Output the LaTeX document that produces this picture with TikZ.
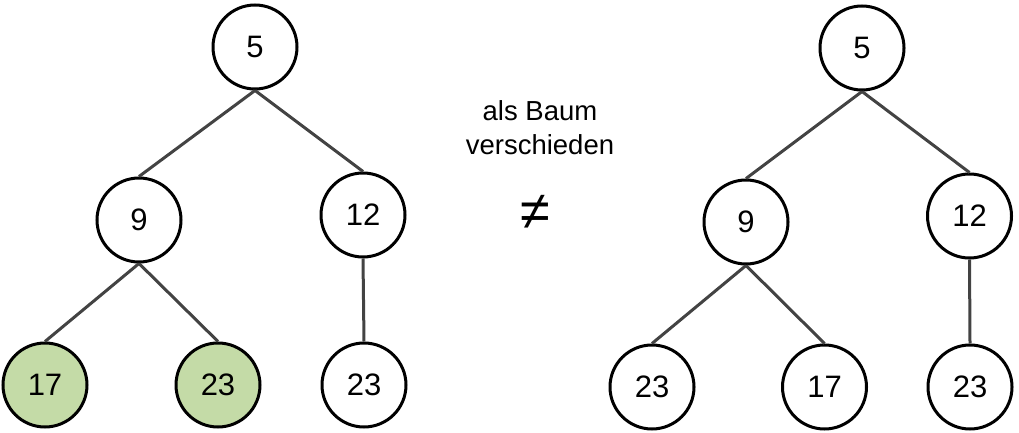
\documentclass[tikz,border=0pt]{standalone}
\usepackage{fontspec}
\setmainfont{Liberation Sans}
\definecolor{edgegray}{HTML}{434343}
\definecolor{leafgreen}{HTML}{C4DBA7}
\begin{document}
\begin{tikzpicture}[x=1pt,y=1pt,
  vertex/.style={circle,draw=black,line width=3pt,minimum size=84pt,inner sep=0pt,fill=white,font=\fontsize{31}{36}\selectfont},
  marked/.style={vertex,fill=leafgreen},
  treeedge/.style={draw=edgegray,line width=3pt},
  midtext/.style={font=\fontsize{27.5}{34}\selectfont,inner sep=0pt}]
\useasboundingbox (0,0) rectangle (1019,433);
% left tree
\node[vertex] (la) at (255,386) {5};
\node[vertex] (lb) at (139,213) {9};
\node[vertex] (lc) at (363,218) {12};
\node[marked] (ld) at (45,48) {17};
\node[marked] (le) at (218,48) {23};
\node[vertex] (lf) at (364,48) {23};
\draw[treeedge] (la.south) -- (lb.north);
\draw[treeedge] (la.south) -- (lc.north);
\draw[treeedge] (lb.south) -- (ld.north);
\draw[treeedge] (lb.south) -- (le.north);
\draw[treeedge] (lc.south) -- (lf.north);
% right tree
\node[vertex] (ra) at (862,385) {5};
\node[vertex] (rb) at (746,211) {9};
\node[vertex] (rc) at (969.5,217) {12};
\node[vertex] (rd) at (652,46) {23};
\node[vertex] (re) at (824.5,46) {17};
\node[vertex] (rf) at (970,46) {23};
\draw[treeedge] (ra.south) -- (rb.north);
\draw[treeedge] (ra.south) -- (rc.north);
\draw[treeedge] (rb.south) -- (rd.north);
\draw[treeedge] (rb.south) -- (re.north);
\draw[treeedge] (rc.south) -- (rf.north);
% middle text
\node[midtext,anchor=base] (t1) at (540,312) {als Baum};
\node[midtext,anchor=base] (t2) at (540,278) {verschieden};
\node[font=\fontsize{54}{58}\selectfont,inner sep=0pt] (neq) at (535,221) {≠};
\end{tikzpicture}
\end{document}
